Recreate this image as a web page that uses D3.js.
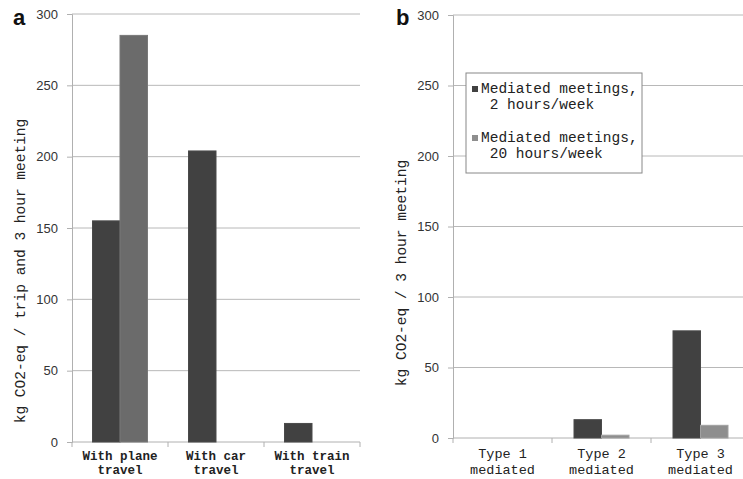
<!DOCTYPE html>
<html>
<head>
<meta charset="utf-8">
<script src="https://cdn.jsdelivr.net/npm/d3@7"></script>
<style>
  body { margin: 0; background: #fff; }
  svg { display: block; }
</style>
</head>
<body>
<div id="chart"></div>
<script>
// panel a
const travelCats = [['With plane', 'travel'], ['With car', 'travel'], ['With train', 'travel']];
const travelDark = [155, 204, 13];
const travelLight = [285, null, null];

// panel b
const mediatedCats = [['Type 1', 'mediated'], ['Type 2', 'mediated'], ['Type 3', 'mediated']];
const mediated2h = [0, 13, 76];
const mediated20h = [0, 2, 9];

const legendLabels = [['Mediated meetings,', '2 hours/week'], ['Mediated meetings,', '20 hours/week']];
const yTicks = [0, 50, 100, 150, 200, 250, 300];

const width = 743;
const height = 479;
const mono = '"Liberation Mono", "Courier New", monospace';
const sans = '"Liberation Sans", Arial, sans-serif';

const svg = d3.select('#chart')
              .append('svg')
              .attr('width', width)
              .attr('height', height);

function drawPanel(opts) {
  const g = svg.append('g');

  const x = d3.scaleBand()
              .domain(d3.range(opts.cats.length))
              .range([opts.left, opts.right]);

  const y = d3.scaleLinear()
              .domain([0, 300])
              .range([opts.bottom, opts.top]);

  // gridlines
  g.selectAll('.grid')
   .data(yTicks.filter(t => t > 0))
   .enter()
   .append('line')
   .attr('x1', opts.left)
   .attr('x2', opts.right)
   .attr('y1', d => y(d))
   .attr('y2', d => y(d))
   .attr('stroke', '#b8b8b8')
   .attr('stroke-width', 1);

  // y axis
  const yAxis = d3.axisLeft(y)
                  .tickValues(yTicks)
                  .tickSize(5)
                  .tickPadding(9);

  const ya = g.append('g')
              .attr('transform', 'translate(' + opts.left + ', 0)')
              .call(yAxis);
  ya.select('.domain').attr('stroke', '#b0b0b0');
  ya.selectAll('.tick line').attr('stroke', '#b0b0b0');
  ya.selectAll('.tick text')
    .attr('font-family', sans)
    .attr('font-size', 13)
    .attr('fill', '#333');

  // x axis line and category ticks
  g.append('line')
   .attr('x1', opts.left)
   .attr('x2', opts.right)
   .attr('y1', opts.bottom)
   .attr('y2', opts.bottom)
   .attr('stroke', '#b0b0b0');

  g.selectAll('.xtick')
   .data(d3.range(opts.cats.length + 1))
   .enter()
   .append('line')
   .attr('x1', d => opts.left + d * x.bandwidth())
   .attr('x2', d => opts.left + d * x.bandwidth())
   .attr('y1', opts.bottom)
   .attr('y2', opts.bottom + 5)
   .attr('stroke', '#b0b0b0');

  // category labels
  opts.cats.forEach((c, i) => {
    const t = g.append('text')
               .attr('x', x(i) + x.bandwidth() / 2)
               .attr('y', opts.bottom + opts.labelDy)
               .attr('text-anchor', 'middle')
               .attr('font-family', mono)
               .attr('font-size', opts.labelSize)
               .attr('font-weight', opts.labelWeight)
               .attr('fill', '#222');
    c.forEach((line, k) => {
      t.append('tspan')
       .attr('x', x(i) + x.bandwidth() / 2)
       .attr('dy', k === 0 ? 0 : opts.labelLine)
       .text(line);
    });
  });

  // bars
  const barW = 27.5;
  const series = [
    { values: opts.dark, color: '#414141', offset: -barW },
    { values: opts.light, color: opts.lightColor, offset: 0 }
  ];
  series.forEach(s => {
    g.selectAll(null)
     .data(s.values.map((v, i) => ({ v, i })).filter(d => d.v !== null && d.v > 0))
     .enter()
     .append('rect')
     .attr('x', d => x(d.i) + x.bandwidth() / 2 + s.offset)
     .attr('y', d => y(d.v))
     .attr('width', barW)
     .attr('height', d => y(0) - y(d.v))
     .attr('fill', s.color)
     .attr('stroke', d3.color(s.color).brighter(0.35))
     .attr('stroke-width', 1);
  });

  // y label
  svg.append('text')
     .attr('transform', 'translate(' + opts.ylabelX + ',' + opts.ylabelY + ') rotate(-90)')
     .attr('text-anchor', 'middle')
     .attr('font-family', mono)
     .attr('font-size', 14.5)
     .attr('fill', '#222')
     .text(opts.ylabel);

  // panel letter
  svg.append('text')
     .attr('x', opts.letterX)
     .attr('y', 25)
     .attr('font-family', sans)
     .attr('font-weight', 'bold')
     .attr('font-size', 22)
     .attr('fill', '#111')
     .text(opts.letter);

  return { x, y };
}

drawPanel({
  cats: travelCats, dark: travelDark, light: travelLight,
  lightColor: '#6b6b6b',
  left: 72, right: 360, top: 14, bottom: 442,
  labelDy: 18, labelSize: 12.5, labelWeight: 'bold', labelLine: 14,
  ylabel: 'kg CO2-eq / trip and 3 hour meeting', ylabelX: 25, ylabelY: 271,
  letter: 'a', letterX: 13
});

drawPanel({
  cats: mediatedCats, dark: mediated2h, light: mediated20h,
  lightColor: '#8e8e8e',
  left: 453, right: 750, top: 15, bottom: 438,
  labelDy: 20, labelSize: 13.5, labelWeight: 'normal', labelLine: 16,
  ylabel: 'kg CO2-eq / 3 hour meeting', ylabelX: 406, ylabelY: 273,
  letter: 'b', letterX: 396
});

// legend
const lg = svg.append('g').attr('transform', 'translate(466, 73)');
lg.append('rect')
  .attr('width', 176)
  .attr('height', 100)
  .attr('fill', '#fff')
  .attr('stroke', '#888')
  .attr('stroke-width', 1);

const legendColors = ['#414141', '#8e8e8e'];
legendLabels.forEach((lines, i) => {
  const yy = 20 + i * 49;
  lg.append('rect')
    .attr('x', 6)
    .attr('y', yy - 7)
    .attr('width', 6)
    .attr('height', 6)
    .attr('fill', legendColors[i]);
  const t = lg.append('text')
              .attr('x', 15)
              .attr('y', yy)
              .attr('font-family', mono)
              .attr('font-size', 14.5)
              .attr('fill', '#222');
  lines.forEach((line, k) => {
    t.append('tspan')
     .attr('x', 15)
     .attr('dy', k === 0 ? 0 : 16)
     .text(k === 0 ? line : ' ' + line);
  });
});
</script>
</body>
</html>
